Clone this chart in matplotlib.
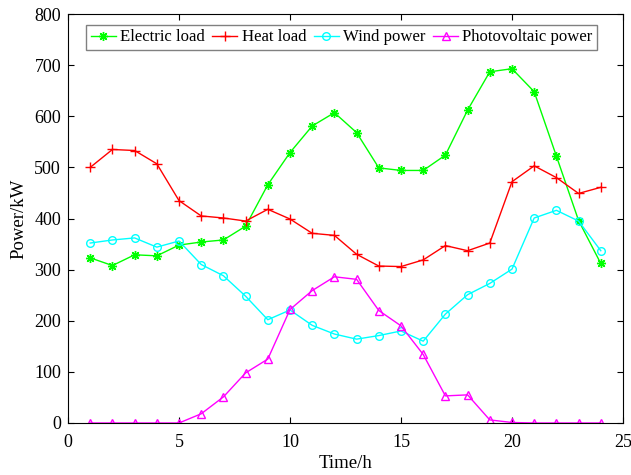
import matplotlib
matplotlib.use("Agg")
import matplotlib.pyplot as plt
import numpy as np

hours = list(range(1, 25))
electric_load = [323, 308, 329, 327, 348, 354, 358, 385, 466, 529, 581, 607,
                 568, 499, 494, 494, 524, 612, 687, 693, 648, 522, 396, 312]
heat_load = [500, 535, 533, 507, 435, 405, 401, 395, 418, 399, 371, 367,
             330, 307, 306, 319, 347, 337, 352, 472, 503, 480, 449, 461]
wind_power = [352, 358, 362, 344, 356, 310, 288, 248, 202, 221, 191, 174,
              164, 171, 180, 160, 213, 251, 273, 301, 401, 416, 395, 337]
pv_power = [0, 0, 0, 0, 0, 18, 51, 98, 125, 222, 259, 286,
            281, 220, 190, 134, 53, 55, 6, 1, 0, 0, 0, 0]
labels = ["Electric load", "Heat load", "Wind power", "Photovoltaic power"]

plt.rcParams['font.family'] = ['Liberation Serif', 'DejaVu Serif']

fig = plt.figure(figsize=(6.31, 4.75), dpi=100)
ax = fig.add_axes([0.1078, 0.1095, 0.8795, 0.861])

ax.plot(hours, electric_load, color='#00ff00', lw=1, marker=(8, 2, 0), ms=6.5,
        mew=1.0, label=labels[0])
ax.plot(hours, heat_load, color='#ff0000', lw=1, marker='+', ms=6.5,
        mew=1.0, label=labels[1])
ax.plot(hours, wind_power, color='#00ffff', lw=1, marker='o', ms=5.5,
        mfc='none', mew=1.0, label=labels[2])
ax.plot(hours, pv_power, color='#ff00ff', lw=1, marker='^', ms=6,
        mfc='none', mew=1.0, label=labels[3])

ax.set_xlim(0, 25)
ax.set_ylim(0, 800)
ax.set_xticks(range(0, 26, 5))
ax.set_yticks(range(0, 801, 100))
ax.tick_params(direction='in', top=True, right=True, labelsize=13,
               length=4, width=0.8)
ax.tick_params(axis='x', pad=8)
ax.tick_params(axis='y', pad=5)
for s in ax.spines.values():
    s.set_linewidth(0.8)
ax.set_xlabel('Time/h', fontsize=13.5, labelpad=3)
ax.set_ylabel('Power/kW', fontsize=13.5, labelpad=5)

leg = ax.legend(loc='upper center', bbox_to_anchor=(0.493, 0.985), ncol=4,
                fontsize=12.1, frameon=True, fancybox=False, framealpha=1,
                edgecolor='#808080', handlelength=1.5, handletextpad=0.25,
                columnspacing=0.45, borderpad=0.25, borderaxespad=0.3)
leg.get_frame().set_linewidth(1.0)

fig.savefig('out.png', dpi=100)
